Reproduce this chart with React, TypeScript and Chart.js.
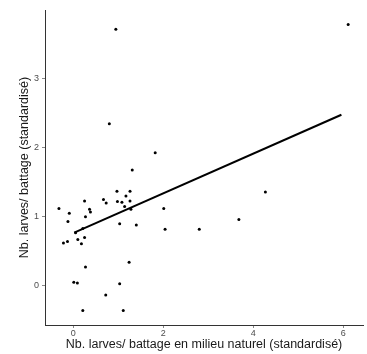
import React, { useEffect, useRef } from "react";
import { Chart, registerables } from "chart.js";

Chart.register(...registerables);

const pointX = [
  0.945, 6.11, 0.8, 1.82, 1.31, 0.97, 1.26, 1.17, 0.67, 0.73,
  0.25, 0.98, 1.08, 1.26, 1.14, 1.28, -0.32, 0.36, 0.38, -0.09,
  0.27, -0.12, 2.01, 4.27, 3.68, 1.03, 1.4, 2.04, 2.8, 0.21,
  0.05, 0.1, 0.25, -0.22, -0.13, 0.18, 0.27, 1.24, 0.01, 0.09,
  1.03, 0.72, 0.21, 1.11,
];
const pointY = [
  3.71, 3.78, 2.34, 1.92, 1.67, 1.36, 1.36, 1.29, 1.24, 1.19,
  1.22, 1.21, 1.2, 1.22, 1.14, 1.1, 1.11, 1.1, 1.06, 1.04,
  0.99, 0.92, 1.11, 1.35, 0.95, 0.89, 0.87, 0.81, 0.81, 0.82,
  0.76, 0.66, 0.69, 0.61, 0.63, 0.6, 0.26, 0.33, 0.04, 0.03,
  0.02, -0.145, -0.37, -0.37,
];
const fitX = [0.02, 5.96];
const fitY = [0.76, 2.47];
const xTicks = [0, 2, 4, 6];
const yTicks = [0, 1, 2, 3];
const xTitle = "Nb. larves/ battage en milieu naturel (standardisé)";
const yTitle = "Nb. larves/ battage (standardisé)";

export default function App() {
  const ref = useRef<HTMLCanvasElement | null>(null);
  useEffect(() => {
    if (!ref.current) return;
    const font = "Liberation Sans, Arial, sans-serif";
    const chart = new Chart(ref.current, {
      type: "scatter",
      data: {
        datasets: [
          {
            type: "scatter",
            data: pointX.map((x, i) => ({ x, y: pointY[i] })),
            backgroundColor: "#000",
            borderColor: "#000",
            pointRadius: 1.5,
            borderWidth: 0,
          },
          {
            type: "line",
            data: fitX.map((x, i) => ({ x, y: fitY[i] })),
            borderColor: "#000",
            borderWidth: 2,
            pointRadius: 0,
            fill: false,
          } as any,
        ],
      },
      options: {
        responsive: false,
        animation: false,
        layout: { padding: { left: 0, right: 4, top: 10, bottom: 0 } },
        plugins: { legend: { display: false }, tooltip: { enabled: false } },
        scales: {
          x: {
            type: "linear",
            min: -0.63,
            max: 6.44,
            afterBuildTicks: (s: any) => {
              s.ticks = xTicks.map((v) => ({ value: v }));
            },
            afterFit: (s: any) => {
              s.height = 29;
            },
            grid: { display: true, drawOnChartArea: false, drawTicks: true, tickLength: 3, color: "#888" },
            border: { display: true, color: "#333", width: 1 },
            ticks: { color: "#4d4d4d", font: { family: font, size: 9 }, padding: 0, maxRotation: 0 },
            title: {
              display: true,
              text: xTitle,
              color: "#1a1a1a",
              font: { family: font, size: 12.5 },
              padding: { top: 0, bottom: 2 },
            },
          },
          y: {
            type: "linear",
            min: -0.58,
            max: 3.99,
            afterBuildTicks: (s: any) => {
              s.ticks = yTicks.map((v) => ({ value: v }));
            },
            afterFit: (s: any) => {
              s.width = 45;
            },
            grid: { display: true, drawOnChartArea: false, drawTicks: true, tickLength: 3, color: "#888" },
            border: { display: true, color: "#333", width: 1 },
            ticks: { color: "#4d4d4d", font: { family: font, size: 9 }, padding: 3 },
            title: {
              display: true,
              text: yTitle,
              color: "#1a1a1a",
              font: { family: font, size: 12.5 },
              padding: { top: 17, bottom: 0 },
            },
          },
        },
      },
    });
    return () => chart.destroy();
  }, []);
  return (
    <div style={{ position: "fixed", left: 0, top: 0, width: 367, height: 354, background: "#fff" }}>
      <canvas ref={ref} width={367} height={354} />
    </div>
  );
}
